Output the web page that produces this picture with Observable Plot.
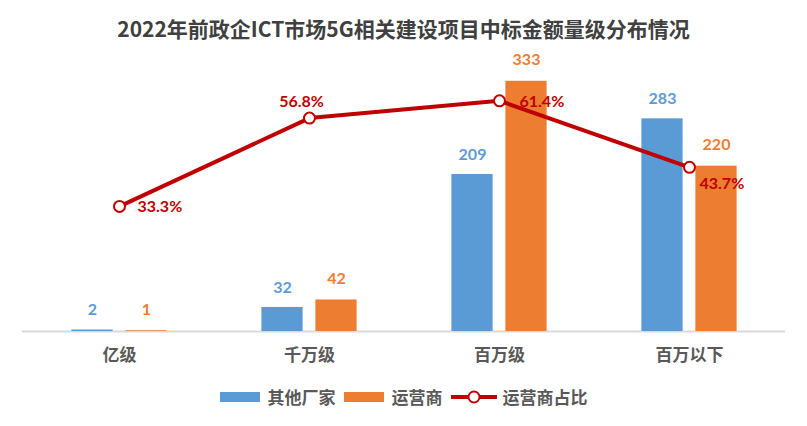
<!DOCTYPE html>
<html>
<head>
<meta charset="utf-8">
<script src="https://cdn.jsdelivr.net/npm/d3@7"></script>
<script src="https://cdn.jsdelivr.net/npm/@observablehq/plot@0.6"></script>
<style>
  body { margin: 0; background: #fff; width: 807px; overflow: hidden; }
  #title { height: 50px; line-height: 56px; text-align: center; font-family: "Noto Sans CJK SC", sans-serif; font-size: 21px; font-weight: 600; color: #404040; }
  #chart { height: 320px; }
  #legend { height: 56px; display: flex; justify-content: center; align-items: flex-start; padding-top: 16px; box-sizing: border-box; font-family: "Noto Sans CJK SC", sans-serif; font-size: 17px; font-weight: 600; color: #595959; line-height: 22px; }
  .item { display: flex; align-items: center; margin: 0 4px; }
  .sw { width: 40px; height: 10px; margin-right: 8px; }
  .ln { width: 46px; height: 22px; margin-right: 6px; }
</style>
</head>
<body>
<div id="title">2022年前政企ICT市场5G相关建设项目中标金额量级分布情况</div>
<div id="chart"></div>
<div id="legend"></div>
<script>
const categories = ["亿级", "千万级", "百万级", "百万以下"];
const otherVendors = [2, 32, 209, 283];
const operators = [1, 42, 333, 220];
const operatorShare = [33.3, 56.8, 61.4, 43.7];
const seriesNames = ["其他厂家", "运营商", "运营商占比"];
const colors = ["#5b9bd5", "#ed7d31", "#c00000"];

const rows = categories.map((c, i) => ({cat: c, other: otherVendors[i], op: operators[i], share: operatorShare[i]}));
const shareToY = v => v * 350 / 70; // secondary axis 0–70% aligned with 0–350

const font = "'Noto Sans CJK SC', sans-serif";
const numFont = "Lato, 'Open Sans', sans-serif";
const pctLabel = d => d.share.toFixed(1) + "%";

const bw = 42, off = 27, band = (807 - 44) / 4;
const leftA = band / 2 - off - bw / 2, leftB = band / 2 + off - bw / 2;

const plot = Plot.plot({
  width: 807,
  height: 320,
  marginLeft: 22,
  marginRight: 22,
  marginTop: 18,
  marginBottom: 39,
  style: {fontFamily: font, background: "#fff"},
  x: {type: "band", domain: categories, padding: 0, label: null},
  y: {domain: [0, 350], axis: null},
  marks: [
    Plot.axisX({tickSize: 0, tickPadding: 17, fontSize: 17, fontWeight: 600, color: "#595959", label: null}),
    Plot.ruleY([0], {stroke: "#d9d9d9", strokeWidth: 2}),
    Plot.barY(rows, {x: "cat", y: "other", fill: colors[0], insetLeft: leftA, insetRight: band - leftA - bw}),
    Plot.barY(rows, {x: "cat", y: "op", fill: colors[1], insetLeft: leftB, insetRight: band - leftB - bw}),
    Plot.text(rows, {x: "cat", y: "other", text: "other", dx: -off, dy: -20, fill: colors[0], fontSize: 16, fontWeight: "bold", fontFamily: numFont}),
    Plot.text(rows, {x: "cat", y: "op", text: "op", dx: off, dy: -21, fill: colors[1], fontSize: 16, fontWeight: "bold", fontFamily: numFont}),
    Plot.line(rows, {x: "cat", y: d => shareToY(d.share), stroke: colors[2], strokeWidth: 4}),
    Plot.dot(rows, {x: "cat", y: d => shareToY(d.share), r: 5.5, fill: "#fff", stroke: colors[2], strokeWidth: 2}),
    Plot.text(rows.filter((d, i) => i === 0), {x: "cat", y: d => shareToY(d.share), text: pctLabel, dx: 18, dy: 0, textAnchor: "start", fill: colors[2], fontSize: 16, fontWeight: "bold", fontFamily: numFont}),
    Plot.text(rows.filter((d, i) => i === 1), {x: "cat", y: d => shareToY(d.share), text: pctLabel, dx: -8, dy: -16, textAnchor: "middle", fill: colors[2], fontSize: 16, fontWeight: "bold", fontFamily: numFont}),
    Plot.text(rows.filter((d, i) => i === 2), {x: "cat", y: d => shareToY(d.share), text: pctLabel, dx: 20, dy: 1, textAnchor: "start", fill: colors[2], fontSize: 16, fontWeight: "bold", fontFamily: numFont}),
    Plot.text(rows.filter((d, i) => i === 3), {x: "cat", y: d => shareToY(d.share), text: pctLabel, dx: 10, dy: 17, textAnchor: "start", fill: colors[2], fontSize: 16, fontWeight: "bold", fontFamily: numFont})
  ]
});
document.getElementById("chart").appendChild(plot);

const legend = document.getElementById("legend");
seriesNames.forEach((name, i) => {
  const item = document.createElement("div");
  item.className = "item";
  if (i < 2) {
    item.innerHTML = `<span class="sw" style="background:${colors[i]}"></span><span>${name}</span>`;
  } else {
    item.innerHTML = `<svg class="ln" viewBox="0 0 46 22"><line x1="0" y1="11" x2="46" y2="11" stroke="${colors[2]}" stroke-width="4"/><circle cx="23" cy="11" r="5.5" fill="#fff" stroke="${colors[2]}" stroke-width="2"/></svg><span>${name}</span>`;
  }
  legend.appendChild(item);
});
</script>
</body>
</html>
